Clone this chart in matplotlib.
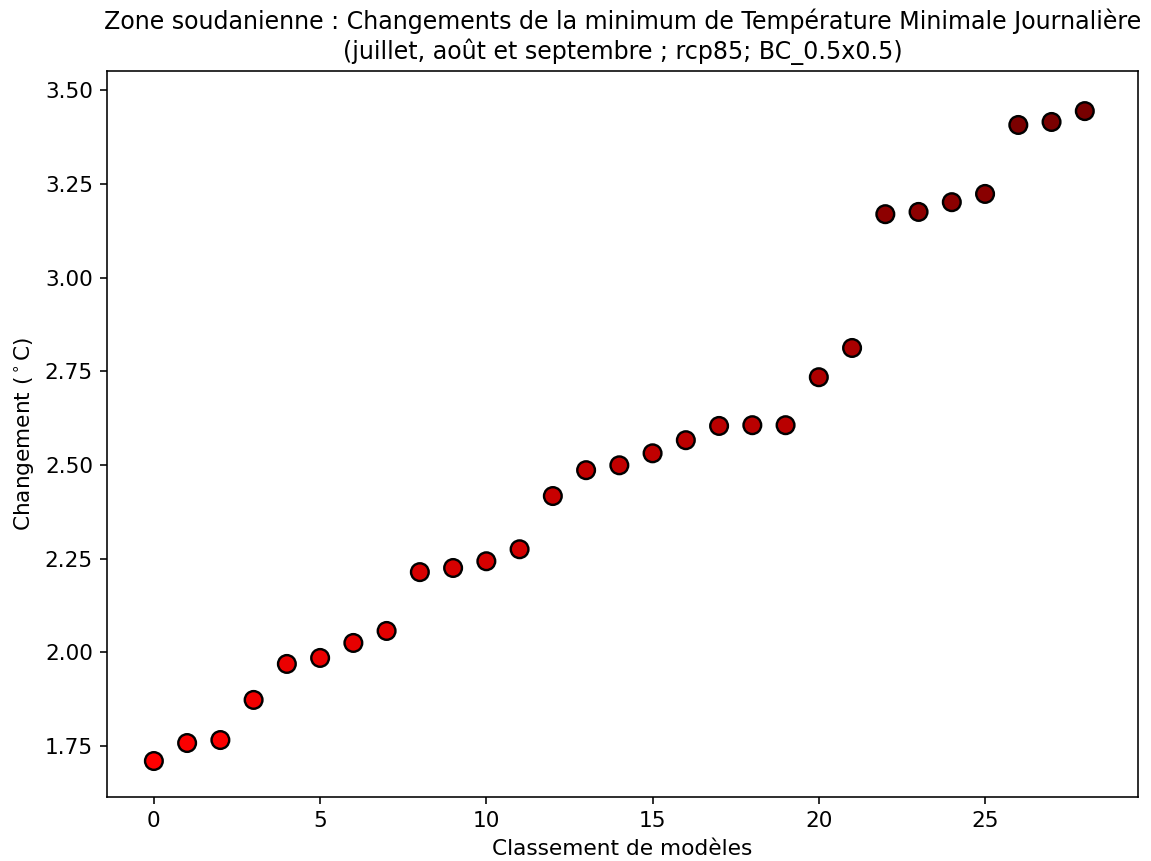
import numpy as np
import matplotlib
matplotlib.use('Agg')
import matplotlib.pyplot as plt
from matplotlib.colors import LinearSegmentedColormap

# valeurs
rang = list(range(29))
changement = [1.710, 1.758, 1.766, 1.873, 1.969, 1.985, 2.025, 2.057,
              2.214, 2.225, 2.243, 2.275, 2.417, 2.486, 2.499, 2.531,
              2.566, 2.604, 2.606, 2.606, 2.734, 2.812, 3.169, 3.175,
              3.201, 3.223, 3.407, 3.415, 3.444]

titre = ("Zone soudanienne : Changements de la minimum de Température Minimale Journalière\n"
         "(juillet, août et septembre ; rcp85; BC_0.5x0.5)")

plt.rcParams['font.size'] = 10.8

cmap = LinearSegmentedColormap.from_list('rouge', ['#ff0000', '#780000'])

fig = plt.figure(figsize=(1151 / 144, 861 / 144), dpi=144)
ax = fig.add_axes([107 / 1151, 1 - 797 / 861, (1138 - 107) / 1151, (797 - 71) / 861])
ax.scatter(rang, changement, c=changement, cmap=cmap, s=78,
           edgecolors='black', linewidths=1.2, zorder=3)
ax.set_xlim(-1.41, 29.6)
ax.set_ylim(1.614, 3.551)
ax.set_yticks([1.75, 2.00, 2.25, 2.50, 2.75, 3.00, 3.25, 3.50])
ax.set_xlabel('Classement de modèles')
ax.set_ylabel(r'Changement ($^\circ$C)')
ax.set_title(titre, fontsize=11.9)

fig.savefig('out.png', dpi=144)
